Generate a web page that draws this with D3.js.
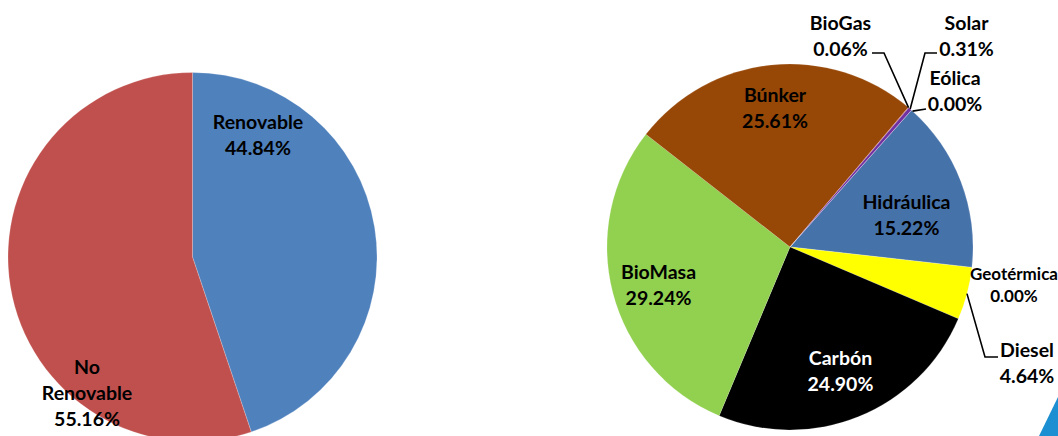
<!DOCTYPE html>
<html><head><meta charset="utf-8">
<script src="https://cdn.jsdelivr.net/npm/d3@7"></script>
<style>
html,body{margin:0;padding:0;background:#fff;}
svg{display:block;}
text{font-family:Lato,"Open Sans",sans-serif;font-weight:bold;}
</style></head>
<body>
<svg id="chart" width="1058" height="436"></svg>
<script>
// Left pie
const leftCategories = ["Renovable", "No Renovable"];
const leftValues = [44.84, 55.16];
const leftColors = ["#4F81BD", "#C0504D"];

// Right pie (order clockwise from the Hidráulica start)
const rightCategories = ["Hidráulica", "Geotérmica", "Diesel", "Carbón", "BioMasa", "Búnker", "BioGas", "Solar", "Eólica"];
const rightValues = [15.22, 0.00, 4.64, 24.90, 29.24, 25.61, 0.06, 0.31, 0.00];
const rightColors = ["#4672AA", "#F79646", "#FFFF00", "#000000", "#92D050", "#974706", "#C0504D", "#7030A0", "#4BACC6"];

const svg = d3.select("#chart");
const fmt = v => v.toFixed(2) + "%";
const FS = 19.5, GAP = 26;

function label(g, x, y, lines, size, gap, color) {
  const t = g.append("text").attr("text-anchor", "middle").attr("font-size", size).attr("fill", color || "#000");
  lines.forEach((s, k) => t.append("tspan").attr("x", x).attr("y", y + k * gap).attr("dy", "0.36em").text(s));
}

// ---------- Left pie ----------
const L = {cx: 192.5, cy: 257, r: 184.5};
const pieL = d3.pie().sort(null).value(d => d)(leftValues);
const arcL = d3.arc().innerRadius(0).outerRadius(L.r);
const gL = svg.append("g").attr("transform", `translate(${L.cx},${L.cy})`);
gL.selectAll("path").data(pieL).enter().append("path")
  .attr("d", arcL).attr("fill", (d, i) => leftColors[i])
  .attr("stroke", "rgba(255,255,255,0.35)").attr("stroke-width", 0.6);

// first-line centre of each label, relative to pie centre
const leftPos = [[65.5, -135.5], [-105.5, 110]];
label(gL, leftPos[0][0], leftPos[0][1], [leftCategories[0], fmt(leftValues[0])], FS, GAP);
label(gL, leftPos[1][0], leftPos[1][1], ["No", "Renovable", fmt(leftValues[1])], FS, GAP);

// ---------- Right pie ----------
const R = {cx: 790, cy: 247, r: 183};
const start = 41.6 * Math.PI / 180;
const pieR = d3.pie().sort(null).value(d => d).startAngle(start).endAngle(start + 2 * Math.PI)(rightValues);
const arcR = d3.arc().innerRadius(0).outerRadius(R.r);
const gR = svg.append("g").attr("transform", `translate(${R.cx},${R.cy})`);
gR.selectAll("path").data(pieR).enter().append("path")
  .attr("d", arcR).attr("fill", (d, i) => rightColors[i])
  .attr("stroke", "rgba(255,255,255,0.3)").attr("stroke-width", 0.5);

function pt(a, rr) { return [Math.sin(a) * rr, -Math.cos(a) * rr]; }
const mid = i => (pieR[i].startAngle + pieR[i].endAngle) / 2;

// label first-line centres, relative to pie centre
const rightPos = {
  0: [116.5, -45.5], 1: [224, 26.5], 2: [237, 103], 3: [50.5, 110.5],
  4: [-131.5, 24.5], 5: [-15, -152], 6: [50.5, -224.5], 7: [176.5, -224.5], 8: [165, -169.5]
};
pieR.forEach((d, i) => {
  const [x, y] = rightPos[i];
  const small = i === 1;
  label(gR, x, y, [rightCategories[i], fmt(rightValues[i])], small ? 17 : FS, small ? 22 : GAP, i === 3 ? "#fff" : "#000");
});

const lineStyle = l => l.attr("fill", "none").attr("stroke", "#000").attr("stroke-width", 1.6);
// Diesel leader
{ const p = pt(mid(2), R.r);
  lineStyle(gR.append("path").attr("d", d3.line()([p, [195, 110], [208, 110]]))); }
// BioGas leader
{ const p = pt(mid(6), R.r);
  lineStyle(gR.append("path").attr("d", d3.line()([p, [94, -194], [82, -194]]))); }
// Solar leader
{ const p = pt(mid(7), R.r);
  lineStyle(gR.append("path").attr("d", d3.line()([p, [135, -194], [147, -194]]))); }
// Eólica leader
{ const p = pt(mid(8), R.r);
  lineStyle(gR.append("path").attr("d", d3.line()([[p[0] + 1, p[1] + 1], [136, -138]]))); }

// Corner logo fragment
svg.append("path").attr("d", "M1058,397 L1039,436 L1058,436 Z").attr("fill", "#1B8FD2");
</script>
</body></html>
